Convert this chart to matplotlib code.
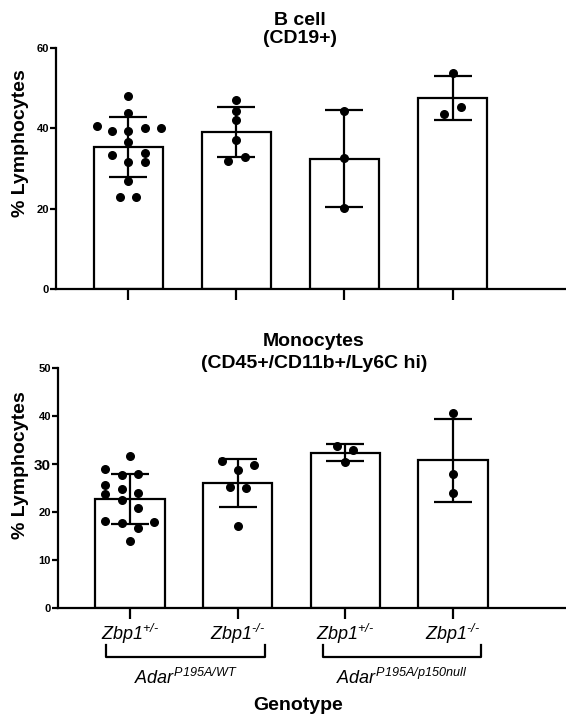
import numpy as np
import matplotlib
matplotlib.use('Agg')
import matplotlib.pyplot as plt
import matplotlib.transforms as mtransforms

plt.rcParams['font.family'] = ['Liberation Sans', 'DejaVu Sans']
plt.rcParams['mathtext.fontset'] = 'custom'
plt.rcParams['mathtext.rm'] = 'Liberation Sans:italic'
plt.rcParams['mathtext.it'] = 'Liberation Sans:italic'

# Datos (puntos individuales por grupo)
bcell = [
    [48.0, 43.8, 40.5, 40.2, 39.4, 39.4, 40.0, 36.6, 33.4, 33.8, 31.6, 31.5, 26.8, 22.8, 22.8],
    [47.0, 44.4, 42.0, 37.0, 31.8, 32.8],
    [44.4, 32.7, 20.2],
    [53.8, 45.3, 43.5],
]
bcell_jitter = [
    [0, 0, -0.29, 0.30, -0.15, 0, 0.15, 0, -0.15, 0.15, 0, 0.15, 0, -0.075, 0.075],
    [0, 0, 0, 0, -0.075, 0.075],
    [0, 0, 0],
    [0, 0.075, -0.075],
]
mono = [
    [31.6, 29.0, 27.7, 28.0, 25.6, 23.7, 24.7, 23.9, 22.5, 20.8, 18.1, 17.6, 16.6, 17.8, 13.9],
    [30.6, 29.9, 28.8, 25.2, 25.1, 17.1],
    [33.8, 33.0, 30.4],
    [40.6, 27.9, 24.0],
]
mono_jitter = [
    [0, -0.23, -0.075, 0.075, -0.23, -0.23, -0.075, 0.075, -0.075, 0.075, -0.23, -0.075, 0.075, 0.225, 0],
    [-0.15, 0.15, 0, -0.075, 0.075, 0],
    [-0.075, 0.075, 0],
    [0, 0, 0],
]
zbp = [r'$Zbp1^{+/\text{-}}$', r'$Zbp1^{\text{-}/\text{-}}$',
       r'$Zbp1^{+/\text{-}}$', r'$Zbp1^{\text{-}/\text{-}}$']
grupos = [r'$Adar^{P195A/WT}$', r'$Adar^{P195A/p150null}$']

W, H = 566, 720
fig = plt.figure(figsize=(W / 100, H / 100), dpi=100)

def px(x0, y0, x1, y1):
    # rectangulo en pixeles -> fraccion de figura
    return [x0 / W, 1 - y1 / H, (x1 - x0) / W, (y1 - y0) / H]

def panel(ax, datos, jit, ymax, yticks):
    x = np.arange(4)
    medias = [np.mean(d) for d in datos]
    sds = [np.std(d, ddof=1) for d in datos]
    ax.bar(x, medias, width=0.645, color='white', edgecolor='black', linewidth=1.6, zorder=1)
    for i in range(4):
        ax.scatter(x[i] + np.array(jit[i]), datos[i], s=30, color='black', zorder=3)
    ax.errorbar(x, medias, yerr=sds, fmt='none', ecolor='black', elinewidth=1.6,
                capsize=13.5, capthick=1.6, zorder=4)
    ax.set_xlim(-0.67, 4.05)
    ax.set_ylim(0, ymax)
    ax.set_yticks(yticks)
    ax.set_xticks(x)
    ax.set_xticklabels([])
    for s in ['top', 'right']:
        ax.spines[s].set_visible(False)
    for s in ['left', 'bottom']:
        ax.spines[s].set_linewidth(1.6)
    ax.tick_params(axis='y', length=4, width=1.6, pad=1, labelsize=8)
    ax.tick_params(axis='x', length=8, width=1.6)
    for t in ax.get_yticklabels():
        t.set_fontweight('bold')

ax1 = fig.add_axes(px(56, 48.3, 566, 288.7))
panel(ax1, bcell, bcell_jitter, 60, [0, 20, 40, 60])

ax2 = fig.add_axes(px(58, 368.3, 566, 607.7))
panel(ax2, mono, mono_jitter, 50, [0, 10, 20, 30, 40, 50])
ax2.get_yticklabels()[3].set_fontsize(11)
ax2.set_xticklabels(zbp, fontsize=13)
ax2.tick_params(axis='x', pad=2)

# titulos y etiquetas
fig.text(300 / W, 1 - 25 / H, 'B cell', ha='center', va='baseline', fontsize=14, fontweight='bold')
fig.text(300 / W, 1 - 43 / H, '(CD19+)', ha='center', va='baseline', fontsize=14, fontweight='bold')
fig.text(314 / W, 1 - 346 / H, 'Monocytes', ha='center', va='baseline', fontsize=14, fontweight='bold')
fig.text(314 / W, 1 - 368 / H, '(CD45+/CD11b+/Ly6C hi)', ha='center', va='baseline',
         fontsize=14, fontweight='bold')
fig.text(21 / W, 1 - 143 / H, '% Lymphocytes', rotation=90, ha='center', va='center',
         fontsize=14, fontweight='bold')
fig.text(21 / W, 1 - 465 / H, '% Lymphocytes', rotation=90, ha='center', va='center',
         fontsize=14, fontweight='bold')

# corchetes de genotipo
tr = mtransforms.blended_transform_factory(ax2.transData, ax2.transAxes)
for (a, b), lab in zip([(-0.22, 1.25), (1.79, 3.26)], grupos):
    ax2.plot([a, a, b, b], [-0.156, -0.206, -0.206, -0.156], color='black', lw=1.6,
             transform=tr, clip_on=False)
    ax2.text((a + b) / 2, -0.294, lab, transform=tr, ha='center', va='center', fontsize=13)
fig.text(298 / W, 1 - 706 / H, 'Genotype', ha='center', va='center', fontsize=14,
         fontweight='bold')

fig.savefig('out.png', dpi=100)
